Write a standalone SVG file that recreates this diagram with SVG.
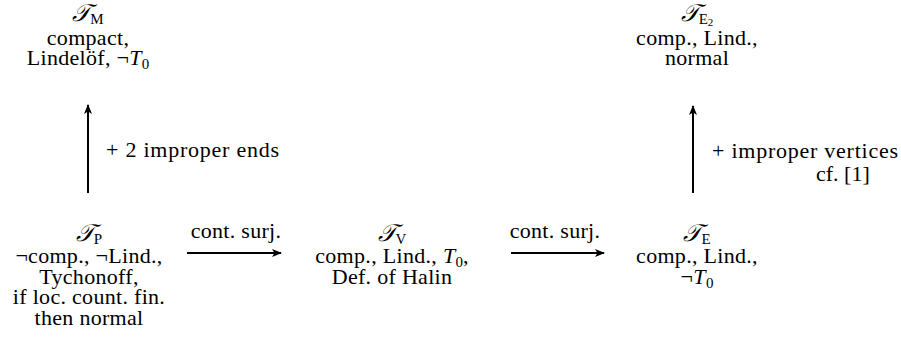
<svg xmlns="http://www.w3.org/2000/svg" width="901" height="337" viewBox="0 0 901 337">
<defs>
<marker id="ah" viewBox="0 0 10 8" refX="9" refY="4" markerWidth="10" markerHeight="8" markerUnits="userSpaceOnUse" orient="auto">
<path d="M0,0 L10,4 L0,8 L2.5,4 Z" fill="#000"/>
</marker>
</defs>
<style>
text{font-family:"Liberation Serif","DejaVu Serif",serif;font-size:22px;letter-spacing:0.3px;fill:#000;text-anchor:middle}
.t{font-size:24px;font-style:italic;letter-spacing:0}
.sub{font-size:15px;font-style:normal;letter-spacing:0}
.it{font-style:italic}
.lab{text-anchor:start;letter-spacing:0}
.arr{stroke:#000;stroke-width:2;fill:none;marker-end:url(#ah)}
</style>
<g id="TM">
<text x="88" y="21"><tspan class="t">𝒯</tspan><tspan class="sub" dy="3">M</tspan></text>
<text x="88" y="45">compact,</text>
<text x="88" y="65">Lindelöf, ¬<tspan class="it">T</tspan><tspan class="sub" dy="4">0</tspan></text>
</g>
<g id="TE2">
<text x="697" y="21"><tspan class="t">𝒯</tspan><tspan class="sub" dy="3">E<tspan font-size="11" dy="2">2</tspan></tspan></text>
<text x="697" y="45">comp., Lind.,</text>
<text x="697" y="65">normal</text>
</g>
<g id="TP">
<text x="89" y="241"><tspan class="t">𝒯</tspan><tspan class="sub" dy="3">P</tspan></text>
<text x="89" y="263">¬comp., ¬Lind.,</text>
<text x="89" y="284">Tychonoff,</text>
<text x="89" y="304">if loc. count. fin.</text>
<text x="89" y="325">then normal</text>
</g>
<g id="TV">
<text x="392" y="241"><tspan class="t">𝒯</tspan><tspan class="sub" dy="3">V</tspan></text>
<text x="392" y="263">comp., Lind., <tspan class="it">T</tspan><tspan class="sub" dy="4">0</tspan><tspan dy="-4">,</tspan></text>
<text x="392" y="284">Def. of Halin</text>
</g>
<g id="TE">
<text x="697" y="241"><tspan class="t">𝒯</tspan><tspan class="sub" dy="3">E</tspan></text>
<text x="697" y="263">comp., Lind.,</text>
<text x="697" y="284">¬<tspan class="it">T</tspan><tspan class="sub" dy="4">0</tspan></text>
</g>
<g id="connectors">
<line class="arr" x1="88" y1="193" x2="88" y2="105"/>
<line class="arr" x1="693" y1="193" x2="693" y2="106"/>
<line class="arr" x1="187" y1="253" x2="281" y2="253"/>
<line class="arr" x1="511" y1="253" x2="604" y2="253"/>
<text class="lab" x="106" y="157" textLength="173" lengthAdjust="spacing">+ 2 improper ends</text>
<text class="lab" x="712" y="158" textLength="186" lengthAdjust="spacing">+ improper vertices</text>
<text class="lab" x="816" y="181">cf. [1]</text>
<text x="236" y="238">cont. surj.</text>
<text x="555" y="238">cont. surj.</text>
</g>
</svg>
